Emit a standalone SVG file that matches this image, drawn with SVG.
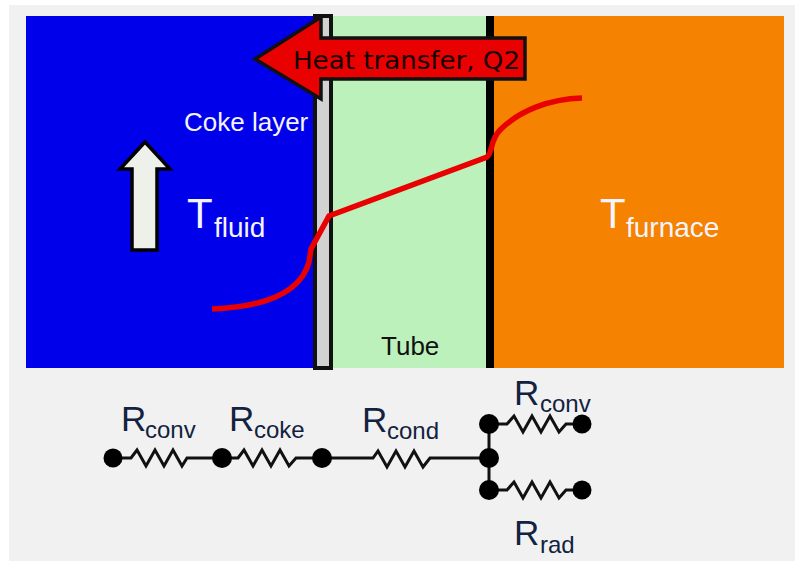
<svg xmlns="http://www.w3.org/2000/svg" width="803" height="561" viewBox="0 0 803 561">
<style>
text{font-family:"Liberation Sans",Arial,sans-serif}
.w{fill:#f4f4ff}
.d{fill:#12233f}
.wire{fill:none;stroke:#111;stroke-width:3;stroke-linejoin:miter}
.dot{fill:#000}
.big{font-size:42px}
.wsub{font-size:28px}
.r{font-size:35px}
.rs{font-size:24px}
</style>
<rect width="803" height="561" fill="#fff"/>
<rect x="9" y="5" width="786" height="556" fill="#f1f1f1"/>
<g id="fluid"><rect x="26" y="16" width="288" height="352" fill="#0000ea"/></g>
<g id="tube"><rect x="331" y="16" width="156" height="352" fill="#bcf1bc"/>
<text x="381" y="355" font-size="26" fill="#111">Tube</text></g>
<g id="furnace"><rect x="494" y="16" width="290" height="352" fill="#f58200"/></g>
<g id="coke"><rect x="315" y="16" width="16" height="352" fill="#d2d2d2" stroke="#111" stroke-width="4"/></g>
<g id="wall"><rect x="486" y="16" width="8" height="352" fill="#000"/></g>
<g id="heat-arrow">
<path d="M255 59L321 17V38H525V79H321V99Z" fill="#e90000" stroke="#111" stroke-width="3.5"/>
<text x="293" y="69" font-size="25.5" textLength="227" lengthAdjust="spacingAndGlyphs" fill="#160000" style="font-family:'DejaVu Sans',Verdana,sans-serif">Heat transfer, Q2</text>
</g>
<g id="flow-arrow"><path d="M145 142L120 169H132V250H157V169H170Z" fill="#eef0ea" stroke="#000" stroke-width="3.5"/></g>
<g id="labels">
<text x="184" y="131" font-size="26" class="w">Coke layer</text>
<text x="187" y="228" class="w big">T</text><text x="214" y="237" class="w wsub">fluid</text>
<text x="600" y="228" class="w big">T</text><text x="626" y="237" class="w wsub">furnace</text>
</g>
<g id="connectors">
<path id="profile" d="M212 309C260 307 300 295 309 262L311 249L329 216L487 157C493 152 490 140 500 130C520 110 550 99 582 98" fill="none" stroke="#e90000" stroke-width="5.5"/>
<path class="wire" d="M113 458H131L137 450L146 466L155 450L164 466L173 450L182 466L187 458H222"/>
<path class="wire" d="M222 458H238L244 450L253 466L262 450L271 466L280 450L289 466L296 458H322"/>
<path class="wire" d="M322 458H373L378 451L387 467L396 451L405 467L414 451L423 467L430 458H489"/>
<path class="wire" d="M489 424V489"/>
<path class="wire" d="M489 424H507L514 416L523 432L532 416L541 432L550 416L559 432L566 424H582"/>
<path class="wire" d="M489 490H507L514 482L523 498L532 482L541 498L550 482L559 498L566 490H582"/>
</g>
<g id="nodes">
<circle class="dot" cx="113" cy="458" r="9.5"/><circle class="dot" cx="222" cy="458" r="10"/><circle class="dot" cx="322" cy="458" r="10"/>
<circle class="dot" cx="489" cy="424" r="10"/><circle class="dot" cx="489" cy="458" r="10"/><circle class="dot" cx="489" cy="490" r="10"/>
<circle class="dot" cx="582" cy="424" r="9.5"/><circle class="dot" cx="582" cy="490" r="9.5"/>
</g>
<g id="resistor-labels">
<text x="121" y="431" class="d r">R</text><text x="145" y="438" class="d rs">conv</text>
<text x="229" y="431" class="d r">R</text><text x="254" y="438" class="d rs">coke</text>
<text x="362" y="432" class="d r">R</text><text x="387" y="439" class="d rs">cond</text>
<text x="514" y="405" class="d r">R</text><text x="540" y="412" class="d rs">conv</text>
<text x="514" y="545" class="d r">R</text><text x="540" y="553" class="d rs">rad</text>
</g>
</svg>
